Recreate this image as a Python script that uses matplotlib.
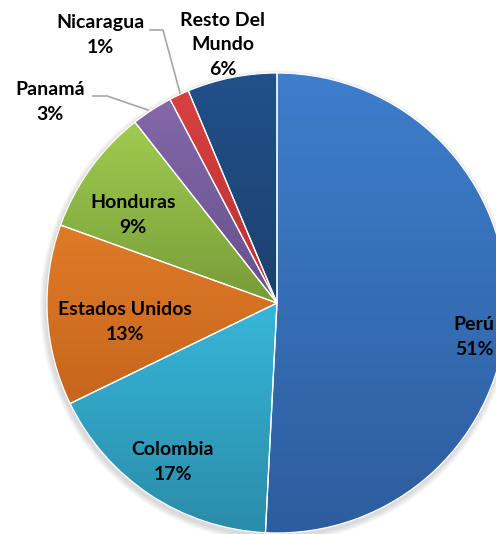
import numpy as np
import matplotlib
matplotlib.use("Agg")
import matplotlib.pyplot as plt
from matplotlib.colors import LinearSegmentedColormap
from matplotlib.patches import Circle

plt.rcParams['font.family'] = ['Lato', 'DejaVu Sans']

# datos del gráfico (porcentajes)
paises = ["Perú", "Colombia", "Estados Unidos", "Honduras", "Panamá", "Nicaragua", "Resto Del\nMundo"]
valores = [50.8, 17.0, 12.7, 8.9, 2.9, 1.4, 6.3]
etiquetas = ["51%", "17%", "13%", "9%", "3%", "1%", "6%"]

# colores degradados (claro arriba, oscuro abajo)
colores = [
    ("#3e7ecc", "#2d5d9e"),
    ("#37b6da", "#2a8ca8"),
    ("#e07a28", "#c6661c"),
    ("#9fcc50", "#789c38"),
    ("#8468a8", "#66508c"),
    ("#d84040", "#b83232"),
    ("#22508a", "#1c416f"),
]

W, H = 496, 534
fig = plt.figure(figsize=(W / 100, H / 100), dpi=100)
ax = fig.add_axes([0, 0, 1, 1])

def py(y):
    # convertir y de pixel (arriba) a coordenada de datos
    return H - y

cx, cy, r = 277, py(303), 230

# sombra suave
for k in range(6):
    ax.add_patch(Circle((cx - 1, cy - 3), r + 1 + k, color="#808080", alpha=0.05, lw=0, zorder=0))

wedges, _ = ax.pie(valores, center=(cx, cy), radius=r, startangle=90, counterclock=False,
                   wedgeprops=dict(edgecolor="white", linewidth=0.9, facecolor="none"))
ax.set_xlim(0, W)
ax.set_ylim(0, H)
ax.set_aspect('equal')
ax.axis('off')

grad = np.linspace(0, 1, 256).reshape(-1, 1)
for w, (c1, c2) in zip(wedges, colores):
    w.set_zorder(3)
    bb = w.get_path().get_extents()
    cmap = LinearSegmentedColormap.from_list("g", [c1, c2])
    im = ax.imshow(grad, cmap=cmap, aspect='auto', origin='upper',
                   extent=[bb.x0, bb.x1, bb.y0, bb.y1], zorder=2, interpolation='bilinear')
    im.set_clip_path(w)

txt = dict(ha='center', va='center', fontsize=14, fontweight='bold', color='black', zorder=5,
           linespacing=1.55)
ax.text(474, py(337), paises[0] + "\n" + etiquetas[0], **txt)
ax.text(173, py(462), paises[1] + "\n" + etiquetas[1], **txt)
ax.text(125, py(322), paises[2] + "\n" + etiquetas[2], **txt)
ax.text(133, py(215), paises[3] + "\n" + etiquetas[3], **txt)
ax.text(50, py(102), paises[4] + "\n" + etiquetas[4], **txt)
ax.text(100, py(35), paises[5] + "\n" + etiquetas[5], **txt)
ax.text(223, py(45), paises[6] + "\n" + etiquetas[6], **txt)

# líneas guía
ax.plot([93, 107, 148], [py(96), py(96), py(110)], color="#a6a6a6", lw=1.2, zorder=4)
ax.plot([150, 163, 180], [py(30), py(30), py(93)], color="#a6a6a6", lw=1.2, zorder=4)

fig.savefig("out.png", dpi=100)
